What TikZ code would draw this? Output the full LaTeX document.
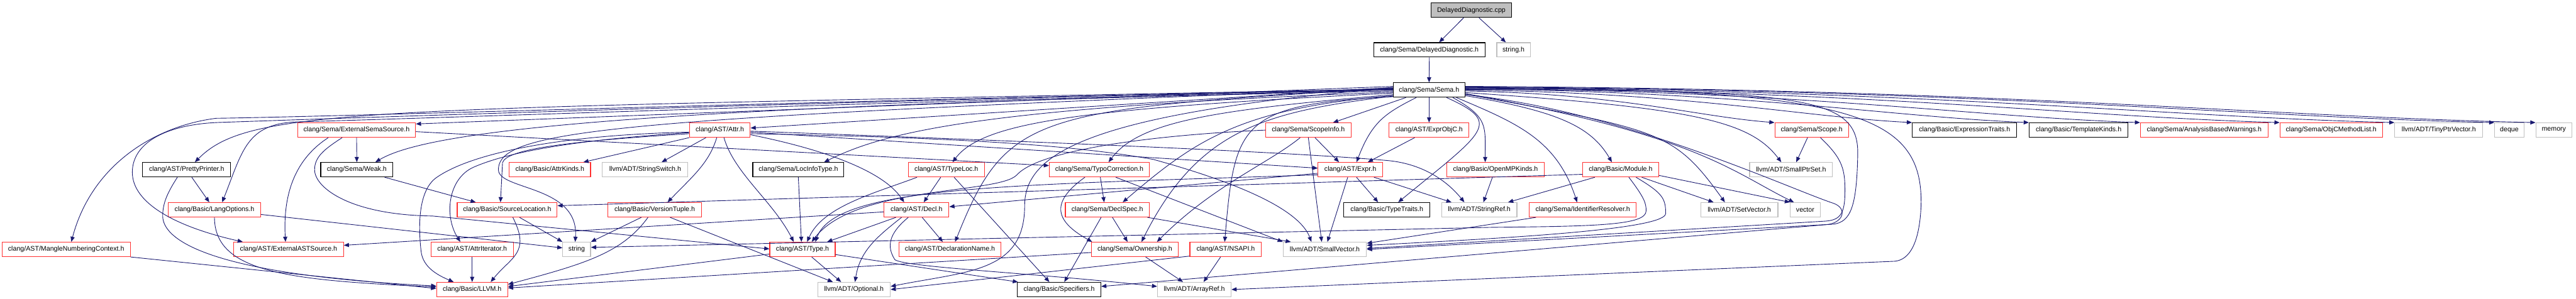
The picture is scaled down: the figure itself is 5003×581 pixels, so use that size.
\documentclass[tikz,border=0pt]{standalone}
\usepackage{fontspec}
\setmainfont{Liberation Sans}
\usetikzlibrary{arrows.meta}
\definecolor{edgec}{HTML}{191970}
\definecolor{redc}{HTML}{FF3030}
\definecolor{greyc}{HTML}{BFBFBF}
\begin{document}
\begin{tikzpicture}[x=1pt,y=1pt,
  box/.style={draw, line width=1.4pt, minimum height=28pt, inner sep=0pt, font=\fontsize{13}{15}\selectfont},
  rb/.style={box, draw=redc},
  bb/.style={box, draw=black},
  gb/.style={box, draw=greyc},
  rootb/.style={box, draw=black, fill=greyc},
  edg/.style={draw=edgec, line width=1.1pt, -{Triangle[length=10pt,width=8pt]}}]
\useasboundingbox (0,0) rectangle (5003,-581);
% row 0-2
\node[rootb, minimum width=157pt] (root) at (2857.5,-20) {DelayedDiagnostic.cpp};
\node[bb, minimum width=216pt] (ddh) at (2776,-97) {clang/Sema/DelayedDiagnostic.h};
\node[gb, minimum width=65pt] (stringh) at (2939.5,-97) {string.h};
\node[bb, minimum width=139pt] (sema) at (2775.5,-175) {clang/Sema/Sema.h};
% row 3
\node[rb, minimum width=229pt] (ess) at (692.5,-253) {clang/Sema/ExternalSemaSource.h};
\node[rb, minimum width=118pt] (attr) at (1398,-253) {clang/AST/Attr.h};
\node[rb, minimum width=166pt] (scopeinfo) at (2541,-253) {clang/Sema/ScopeInfo.h};
\node[rb, minimum width=155pt] (exprobjc) at (2775.5,-253) {clang/AST/ExprObjC.h};
\node[rb, minimum width=143pt] (scope) at (3518.5,-253) {clang/Sema/Scope.h};
\node[bb, minimum width=203pt] (exptraits) at (3815.5,-253) {clang/Basic/ExpressionTraits.h};
\node[bb, minimum width=192pt] (tmplkinds) at (4037,-253) {clang/Basic/TemplateKinds.h};
\node[rb, minimum width=248pt] (abw) at (4281,-253) {clang/Sema/AnalysisBasedWarnings.h};
\node[rb, minimum width=199pt] (objcml) at (4527.5,-253) {clang/Sema/ObjCMethodList.h};
\node[gb, minimum width=171pt] (tinyptr) at (4736.5,-253) {llvm/ADT/TinyPtrVector.h};
\node[gb, minimum width=57pt] (deque) at (4873.5,-253) {deque};
\node[gb, minimum width=70pt] (memory) at (4960,-253) {memory};
% row 4
\node[bb, minimum width=171pt] (pretty) at (362.5,-330) {clang/AST/PrettyPrinter.h};
\node[bb, minimum width=140pt] (weak) at (693,-330) {clang/Sema/Weak.h};
\node[rb, minimum width=158pt] (attrkinds) at (1068,-330) {clang/Basic/AttrKinds.h};
\node[gb, minimum width=166pt] (strswitch) at (1253,-330) {llvm/ADT/StringSwitch.h};
\node[bb, minimum width=177pt] (locinfo) at (1550.5,-330) {clang/Sema/LocInfoType.h};
\node[rb, minimum width=148pt] (typeloc) at (1838,-330) {clang/AST/TypeLoc.h};
\node[rb, minimum width=194pt] (typo) at (2135,-330) {clang/Sema/TypoCorrection.h};
\node[rb, minimum width=125pt] (expr) at (2622.5,-330) {clang/AST/Expr.h};
\node[rb, minimum width=189pt] (openmp) at (2904.5,-330) {clang/Basic/OpenMPKinds.h};
\node[rb, minimum width=147pt] (module) at (3147.5,-330) {clang/Basic/Module.h};
\node[gb, minimum width=161pt] (smallptrset) at (3478.5,-330) {llvm/ADT/SmallPtrSet.h};
% row 5
\node[rb, minimum width=179pt] (langopts) at (416.5,-408) {clang/Basic/LangOptions.h};
\node[rb, minimum width=194pt] (srcloc) at (985,-408) {clang/Basic/SourceLocation.h};
\node[rb, minimum width=181pt] (vtuple) at (1271.5,-408) {clang/Basic/VersionTuple.h};
\node[rb, minimum width=126pt] (decl) at (1780,-408) {clang/AST/Decl.h};
\node[rb, minimum width=163pt] (declspec) at (2150.5,-408) {clang/Sema/DeclSpec.h};
\node[bb, minimum width=167pt] (typetraits) at (2693.5,-408) {clang/Basic/TypeTraits.h};
\node[gb, minimum width=146pt] (stringref) at (2873,-408) {llvm/ADT/StringRef.h};
\node[rb, minimum width=208pt] (idres) at (3074,-408) {clang/Sema/IdentifierResolver.h};
\node[gb, minimum width=150pt] (setvector) at (3378,-408) {llvm/ADT/SetVector.h};
\node[gb, minimum width=58pt] (vector) at (3506,-408) {vector};
% row 6
\node[rb, minimum width=249pt] (mangle) at (128.5,-485) {clang/AST/MangleNumberingContext.h};
\node[rb, minimum width=213pt] (extast) at (560.5,-485) {clang/AST/ExternalASTSource.h};
\node[rb, minimum width=160pt] (attriter) at (917,-485) {clang/AST/AttrIterator.h};
\node[gb, minimum width=54pt] (strg) at (1120,-485) {string};
\node[rb, minimum width=127pt] (type) at (1558.5,-485) {clang/AST/Type.h};
\node[rb, minimum width=198pt] (declname) at (1845,-485) {clang/AST/DeclarationName.h};
\node[rb, minimum width=168pt] (ownership) at (2204,-485) {clang/Sema/Ownership.h};
\node[rb, minimum width=139pt] (nsapi) at (2380.5,-485) {clang/AST/NSAPI.h};
\node[gb, minimum width=162pt] (smallvec) at (2573,-485) {llvm/ADT/SmallVector.h};
% row 7
\node[rb, minimum width=138pt] (llvm) at (917,-563) {clang/Basic/LLVM.h};
\node[gb, minimum width=141pt] (optional) at (1658.5,-563) {llvm/ADT/Optional.h};
\node[bb, minimum width=162pt] (specifiers) at (2057,-563) {clang/Basic/Specifiers.h};
\node[gb, minimum width=143pt] (arrayref) at (2319.5,-563) {llvm/ADT/ArrayRef.h};

% ---- edges: top
\draw[edg] ([xshift=-15pt]root.south) -- ([xshift=19pt]ddh.north);
\draw[edg] ([xshift=15pt]root.south) -- ([xshift=-15pt]stringh.north);
\draw[edg] (ddh.south) -- (sema.north);
% ---- Sema straight
\draw[edg] ([yshift=7pt]sema.west) -- ([yshift=12pt]ess.east);
\draw[edg] ([yshift=5pt]sema.west) -- ([yshift=4pt]attr.east);
\draw[edg] ([xshift=-45pt]sema.south) -- ([xshift=48pt]scopeinfo.north);
\draw[edg] (sema.south) -- (exprobjc.north);
\draw[edg] ([yshift=-2pt]sema.east) .. controls (3146,-182) and (3296,-227) .. (scope.north west);
\draw[edg] ([yshift=0pt]sema.east) .. controls (3280,-180) and (3497,-227) .. (exptraits.north west);
\draw[edg] ([yshift=2pt]sema.east) .. controls (3393,-178) and (3667,-227) .. (tmplkinds.north west);
\draw[edg] ([yshift=3pt]sema.east) .. controls (3501,-177) and (3829,-227) .. (abw.north west);
\draw[edg] ([yshift=4pt]sema.east) .. controls (3637,-176) and (4032,-227) .. (objcml.north west);
\draw[edg] ([yshift=5pt]sema.east) .. controls (3748,-175) and (4200,-227) .. (tinyptr.north west);
\draw[edg] ([yshift=6pt]sema.east) .. controls (3845,-174) and (4345,-227) .. (deque.north west);
\draw[edg] ([yshift=7pt]sema.east) .. controls (3885,-173) and (4405,-227) .. (memory.north west);
% ---- Sema curved (left)
\draw[edg] ([yshift=2pt]sema.west) .. controls (706,-213) and (488,-206) .. ([xshift=16pt]pretty.north);
\draw[edg] ([yshift=-2pt]sema.west) .. controls (1206,-207) and (829,-256) .. ([xshift=36pt]weak.north);
\draw[edg] ([yshift=-4pt]sema.west) .. controls (1906,-209) and (1721,-256) .. ([xshift=50pt]locinfo.north);
\draw[edg] ([yshift=-6pt]sema.west) .. controls (2106,-211) and (1910,-236) .. ([xshift=12pt]typeloc.north);
\draw[edg] ([yshift=-9pt]sema.west) .. controls (2356,-214) and (2213,-236) .. ([xshift=18pt]typo.north);
\draw[edg] ([xshift=-25pt]sema.south) .. controls (2691,-220) and (2665,-236) .. ([xshift=12pt]expr.north);
\draw[edg] ([xshift=34pt]sema.south) .. controls (2919,-239) and (2885,-254) .. ([xshift=22pt]typetraits.north);
\draw[edg] ([xshift=46pt]sema.south) .. controls (2892,-229) and (2884,-246) .. ([xshift=-20pt]openmp.north);
\draw[edg] ([xshift=53pt]sema.south) .. controls (2948,-240) and (3023,-272) .. ([xshift=-11pt]idres.north);
\draw[edg] ([yshift=-11pt]sema.east) .. controls (3025,-216) and (3090,-246) .. ([xshift=-17pt]module.north);
\draw[edg] ([yshift=-5pt]sema.east) .. controls (3295,-210) and (3399,-236) .. ([xshift=-19pt]smallptrset.north);
\draw[edg] ([yshift=-8pt]sema.east) .. controls (3225,-253) and (3250,-254) .. ([xshift=-28pt]setvector.north);
\draw[edg] ([yshift=-7pt]sema.east) .. controls (3295,-262) and (3364,-334) .. ([xshift=-22pt]vector.north);
\draw[edg] (sema.west) .. controls (1800,-195) and (900,-228) .. (578,-237) .. controls (478,-240) and (471,-294) .. ([xshift=15pt]langopts.north);
\draw[edg] ([yshift=1pt]sema.west) .. controls (1800,-190) and (700,-226) .. (420,-230) .. controls (300,-245) and (178,-321) .. ([xshift=10pt]mangle.north);
\draw[edg] ([yshift=1pt]sema.west) .. controls (1800,-192) and (800,-225) .. (428,-238) .. controls (328,-241) and (257,-275) .. (257,-335) .. controls (257,-395) and (341,-441) .. ([xshift=-89pt]extast.north);
\draw[edg] ([yshift=3pt]sema.west) .. controls (2006,-212) and (1955,-220) .. ([xshift=10pt]declname.north);
\draw[edg] ([yshift=-12pt]sema.west) .. controls (2456,-217) and (2327,-251) .. ([xshift=13pt]ownership.north);
\draw[edg] ([yshift=-13pt]sema.west) .. controls (2406,-203) and (2398,-241) .. ([xshift=-2pt]nsapi.north);
\draw[edg] ([yshift=-11pt]sema.west) .. controls (2406,-211) and (2320,-274) .. ([xshift=30pt]declspec.north);
\draw[edg] ([yshift=4pt]sema.west) .. controls (2106,-221) and (1990,-300) .. (1990,-400) .. controls (1990,-530) and (1879,-527) .. ([yshift=6pt]optional.east);
\draw[edg] ([yshift=4pt]sema.west) .. controls (1206,-231) and (968,-250) .. (968,-330) .. controls (968,-370) and (1125,-360) .. ([xshift=-3pt]strg.north);
% ---- Sema loops (right)
\draw[edg] ([yshift=1pt]sema.east) .. controls (3500,-176) and (3610,-185) .. (3608,-300) .. controls (3606,-400) and (3595,-432) .. (3560,-436) -- (smallvec.east);
\draw[edg] ([yshift=-9pt]sema.east) .. controls (3150,-215) and (3470,-365) .. (3560,-395) .. controls (3590,-405) and (3580,-435) .. (3545,-437) -- ([yshift=6pt]specifiers.east);
\draw[edg] ([yshift=4pt]sema.east) .. controls (3600,-172) and (3735,-220) .. (3731,-400) .. controls (3728,-470) and (3710,-505) .. (3680,-508) -- (arrayref.east);
% ---- ExternalSemaSource
\draw[edg] (ess.south) -- (weak.north);
\draw[edg] ([xshift=-55pt]ess.south) .. controls (577,-307) and (549,-371) .. ([xshift=-6pt]extast.north);
\draw[edg] ([xshift=-28pt]ess.south) .. controls (630,-290) and (611,-305) .. (611,-330) .. controls (611,-365) and (680,-418) .. (840,-420) -- ([yshift=1pt]type.west);
\draw[edg] ([yshift=-3pt]ess.east) -- ([yshift=8pt]typo.west);
% ---- Weak, PrettyPrinter, LangOptions, Mangle
\draw[edg] ([xshift=54pt]weak.south) -- ([xshift=-61pt]srcloc.north);
\draw[edg] ([xshift=10pt]pretty.south) -- ([xshift=-10pt]langopts.north);
\draw[edg] ([xshift=-18pt]pretty.south) .. controls (325,-375) and (316,-395) .. (316,-420) .. controls (316,-470) and (420,-535) .. ([yshift=7pt]llvm.west);
\draw[edg] (langopts.south) .. controls (417,-530) and (560,-545) .. ([yshift=5pt]llvm.west);
\draw[edg] ([yshift=-9pt]langopts.east) -- ([yshift=3pt]strg.west);
\draw[edg] (mangle.south east) -- ([yshift=2pt]llvm.west);
% ---- Attr
\draw[edg] (attr.south west) -- ([xshift=65pt]attrkinds.north);
\draw[edg] ([xshift=-27pt]attr.south) -- ([xshift=32pt]strswitch.north);
\draw[edg] ([xshift=-6pt]attr.south) .. controls (1377,-317) and (1346,-342) .. ([xshift=25pt]vtuple.north);
\draw[edg] ([xshift=8pt]attr.south) .. controls (1426,-337) and (1501,-391) .. ([xshift=-17pt]type.north);
\draw[edg] ([yshift=-7pt]attr.west) .. controls (1100,-275) and (985,-290) .. (976,-316) -- ([xshift=-13pt]srcloc.north);
\draw[edg] ([yshift=-5pt]attr.west) .. controls (1150,-270) and (1000,-290) .. (920,-325) .. controls (870,-347) and (862,-420) .. ([xshift=-23pt]attriter.north);
\draw[edg] ([yshift=-4pt]attr.west) .. controls (1100,-262) and (920,-295) .. (848,-345) .. controls (812,-370) and (812,-440) .. (818,-490) .. controls (822,-520) and (850,-535) .. ([xshift=-36pt]llvm.north);
\draw[edg] ([yshift=-9pt]attr.east) .. controls (1607,-292) and (1716,-334) .. ([xshift=-24pt]decl.north);
\draw[edg] ([yshift=-4pt]attr.east) -- ([yshift=3pt]expr.west);
\draw[edg] ([yshift=-2pt]attr.east) .. controls (2000,-275) and (2500,-295) .. (2693,-312) .. controls (2753,-317) and (2804,-344) .. ([xshift=-29pt]stringref.north);
\draw[edg] ([yshift=-7pt]attr.east) .. controls (1900,-268) and (2100,-285) .. (2240,-310) .. controls (2330,-335) and (2517,-391) .. ([xshift=-26pt]smallvec.north);
% ---- SourceLocation, VersionTuple, AttrIterator, Type, LocInfo, TypeLoc
\draw[edg] ([xshift=24pt]srcloc.south) -- (strg.north west);
\draw[edg] ([xshift=11pt]srcloc.south) .. controls (1031,-492) and (993,-499) .. ([xshift=36pt]llvm.north);
\draw[edg] ([xshift=-26pt]vtuple.south) -- (strg.north east);
\draw[edg] ([xshift=-13pt]vtuple.south) .. controls (1208,-492) and (1136,-513) .. ([yshift=10pt]llvm.east);
\draw[edg] ([xshift=30pt]vtuple.south) -- ([xshift=-41pt]optional.north);
\draw[edg] (attriter.south) -- (llvm.north);
\draw[edg] ([yshift=-9pt]type.west) -- ([yshift=6pt]llvm.east);
\draw[edg] ([xshift=18pt]type.south) -- ([xshift=-25pt]optional.north);
\draw[edg] ([yshift=-10pt]type.east) -- ([xshift=-80pt]specifiers.north);
\draw[edg] (locinfo.south) -- ([xshift=-2pt]type.north);
\draw[edg] ([xshift=-57pt]typeloc.south) .. controls (1701,-375) and (1598,-401) .. ([xshift=9pt]type.north);
\draw[edg] ([xshift=-11pt]typeloc.south) -- ([xshift=14pt]decl.north);
\draw[edg] ([xshift=15pt]typeloc.south) -- ([xshift=-19pt]specifiers.north);
% ---- Decl
\draw[edg] ([yshift=-4pt]decl.west) -- ([yshift=8pt]extast.east);
\draw[edg] ([xshift=-40pt]decl.south) -- ([xshift=48pt]type.north);
\draw[edg] ([xshift=-29pt]decl.south) .. controls (1701,-462) and (1670,-489) .. ([xshift=2pt]optional.north);
\draw[edg] ([xshift=-16pt]decl.south) .. controls (1725,-455) and (1722,-480) .. (1738,-505) .. controls (1760,-520) and (2000,-530) .. ([yshift=6pt]arrayref.west);
\draw[edg] ([xshift=11pt]decl.south) -- ([xshift=-14pt]declname.north);
% ---- Expr, ExprObjC, ScopeInfo
\draw[edg] ([yshift=-7pt]expr.west) -- ([yshift=6pt]decl.east);
\draw[edg] ([yshift=-10pt]expr.west) .. controls (1960,-360) and (1623,-361) .. ([xshift=25pt]type.north);
\draw[edg] ([xshift=12pt]expr.south) -- ([xshift=-17pt]typetraits.north);
\draw[edg] ([xshift=46pt]expr.south) -- ([xshift=-54pt]stringref.north);
\draw[edg] ([xshift=-5pt]expr.south) -- ([xshift=5pt]smallvec.north);
\draw[edg] ([xshift=-28pt]exprobjc.south) -- ([xshift=34pt]expr.north);
\draw[edg] ([xshift=13pt]scopeinfo.south) -- ([xshift=-22pt]expr.north);
\draw[edg] (scopeinfo.south) -- ([xshift=-6pt]smallvec.north);
\draw[edg] ([xshift=-16pt]scopeinfo.south) .. controls (2465,-317) and (2357,-360) .. ([xshift=43pt]ownership.north);
\draw[edg] (scopeinfo.west) .. controls (2250,-262) and (2020,-290) .. (1975,-340) .. controls (1940,-378) and (1660,-360) .. ([xshift=18pt]type.north);
% ---- TypoCorrection, DeclSpec, Ownership, NSAPI
\draw[edg] ([xshift=2pt]typo.south) -- ([xshift=-6pt]declspec.north);
\draw[edg] ([xshift=-28pt]typo.south) .. controls (2037,-395) and (2051,-431) .. ([xshift=-83pt]ownership.north);
\draw[edg] ([xshift=32pt]typo.south) -- (smallvec.north west);
\draw[edg] ([xshift=10pt]declspec.south) -- ([xshift=-14pt]ownership.north);
\draw[edg] ([xshift=-12pt]declspec.south) -- ([xshift=10pt]specifiers.north);
\draw[edg] ([xshift=78pt]declspec.south) -- ([xshift=-66pt]smallvec.north);
\draw[edg] ([xshift=21pt]ownership.south) -- ([xshift=-22pt]arrayref.north);
\draw[edg] ([yshift=-6pt]ownership.west) -- ([yshift=3pt]llvm.east);
\draw[edg] ([xshift=-10pt]nsapi.south) -- ([xshift=18pt]arrayref.north);
\draw[edg] ([yshift=-13pt]nsapi.west) -- (optional.east);
% ---- OpenMP, Module, IdentifierResolver, Scope
\draw[edg] ([xshift=-6pt]openmp.south) -- ([xshift=8pt]stringref.north);
\draw[edg] ([yshift=-9pt]module.west) -- ([yshift=8pt]srcloc.east);
\draw[edg] ([xshift=-50pt]module.south) -- ([xshift=56pt]stringref.north);
\draw[edg] ([xshift=41pt]module.south) -- ([xshift=-50pt]setvector.north);
\draw[edg] ([yshift=-11pt]module.east) -- (vector.north west);
\draw[edg] ([xshift=30pt]module.south) .. controls (3228,-375) and (3235,-385) .. (3235,-415) .. controls (3235,-445) and (2956,-462) .. ([yshift=8pt]smallvec.east);
\draw[edg] ([xshift=16pt]module.south) .. controls (3194,-385) and (3197,-395) .. (3197,-410) .. controls (3197,-438) and (3100,-440) .. (2900,-442) -- ([yshift=4pt]strg.east);
\draw[edg] ([xshift=-91pt]idres.south) -- ([yshift=12pt]smallvec.east);
\draw[edg] ([xshift=-8pt]scope.south) -- ([xshift=10pt]smallptrset.north);
\draw[edg] ([xshift=17pt]scope.south) .. controls (3580,-310) and (3584,-330) .. (3583,-380) .. controls (3582,-420) and (3570,-428) .. (3545,-430) -- ([yshift=2pt]smallvec.east);
\end{tikzpicture}
\end{document}
